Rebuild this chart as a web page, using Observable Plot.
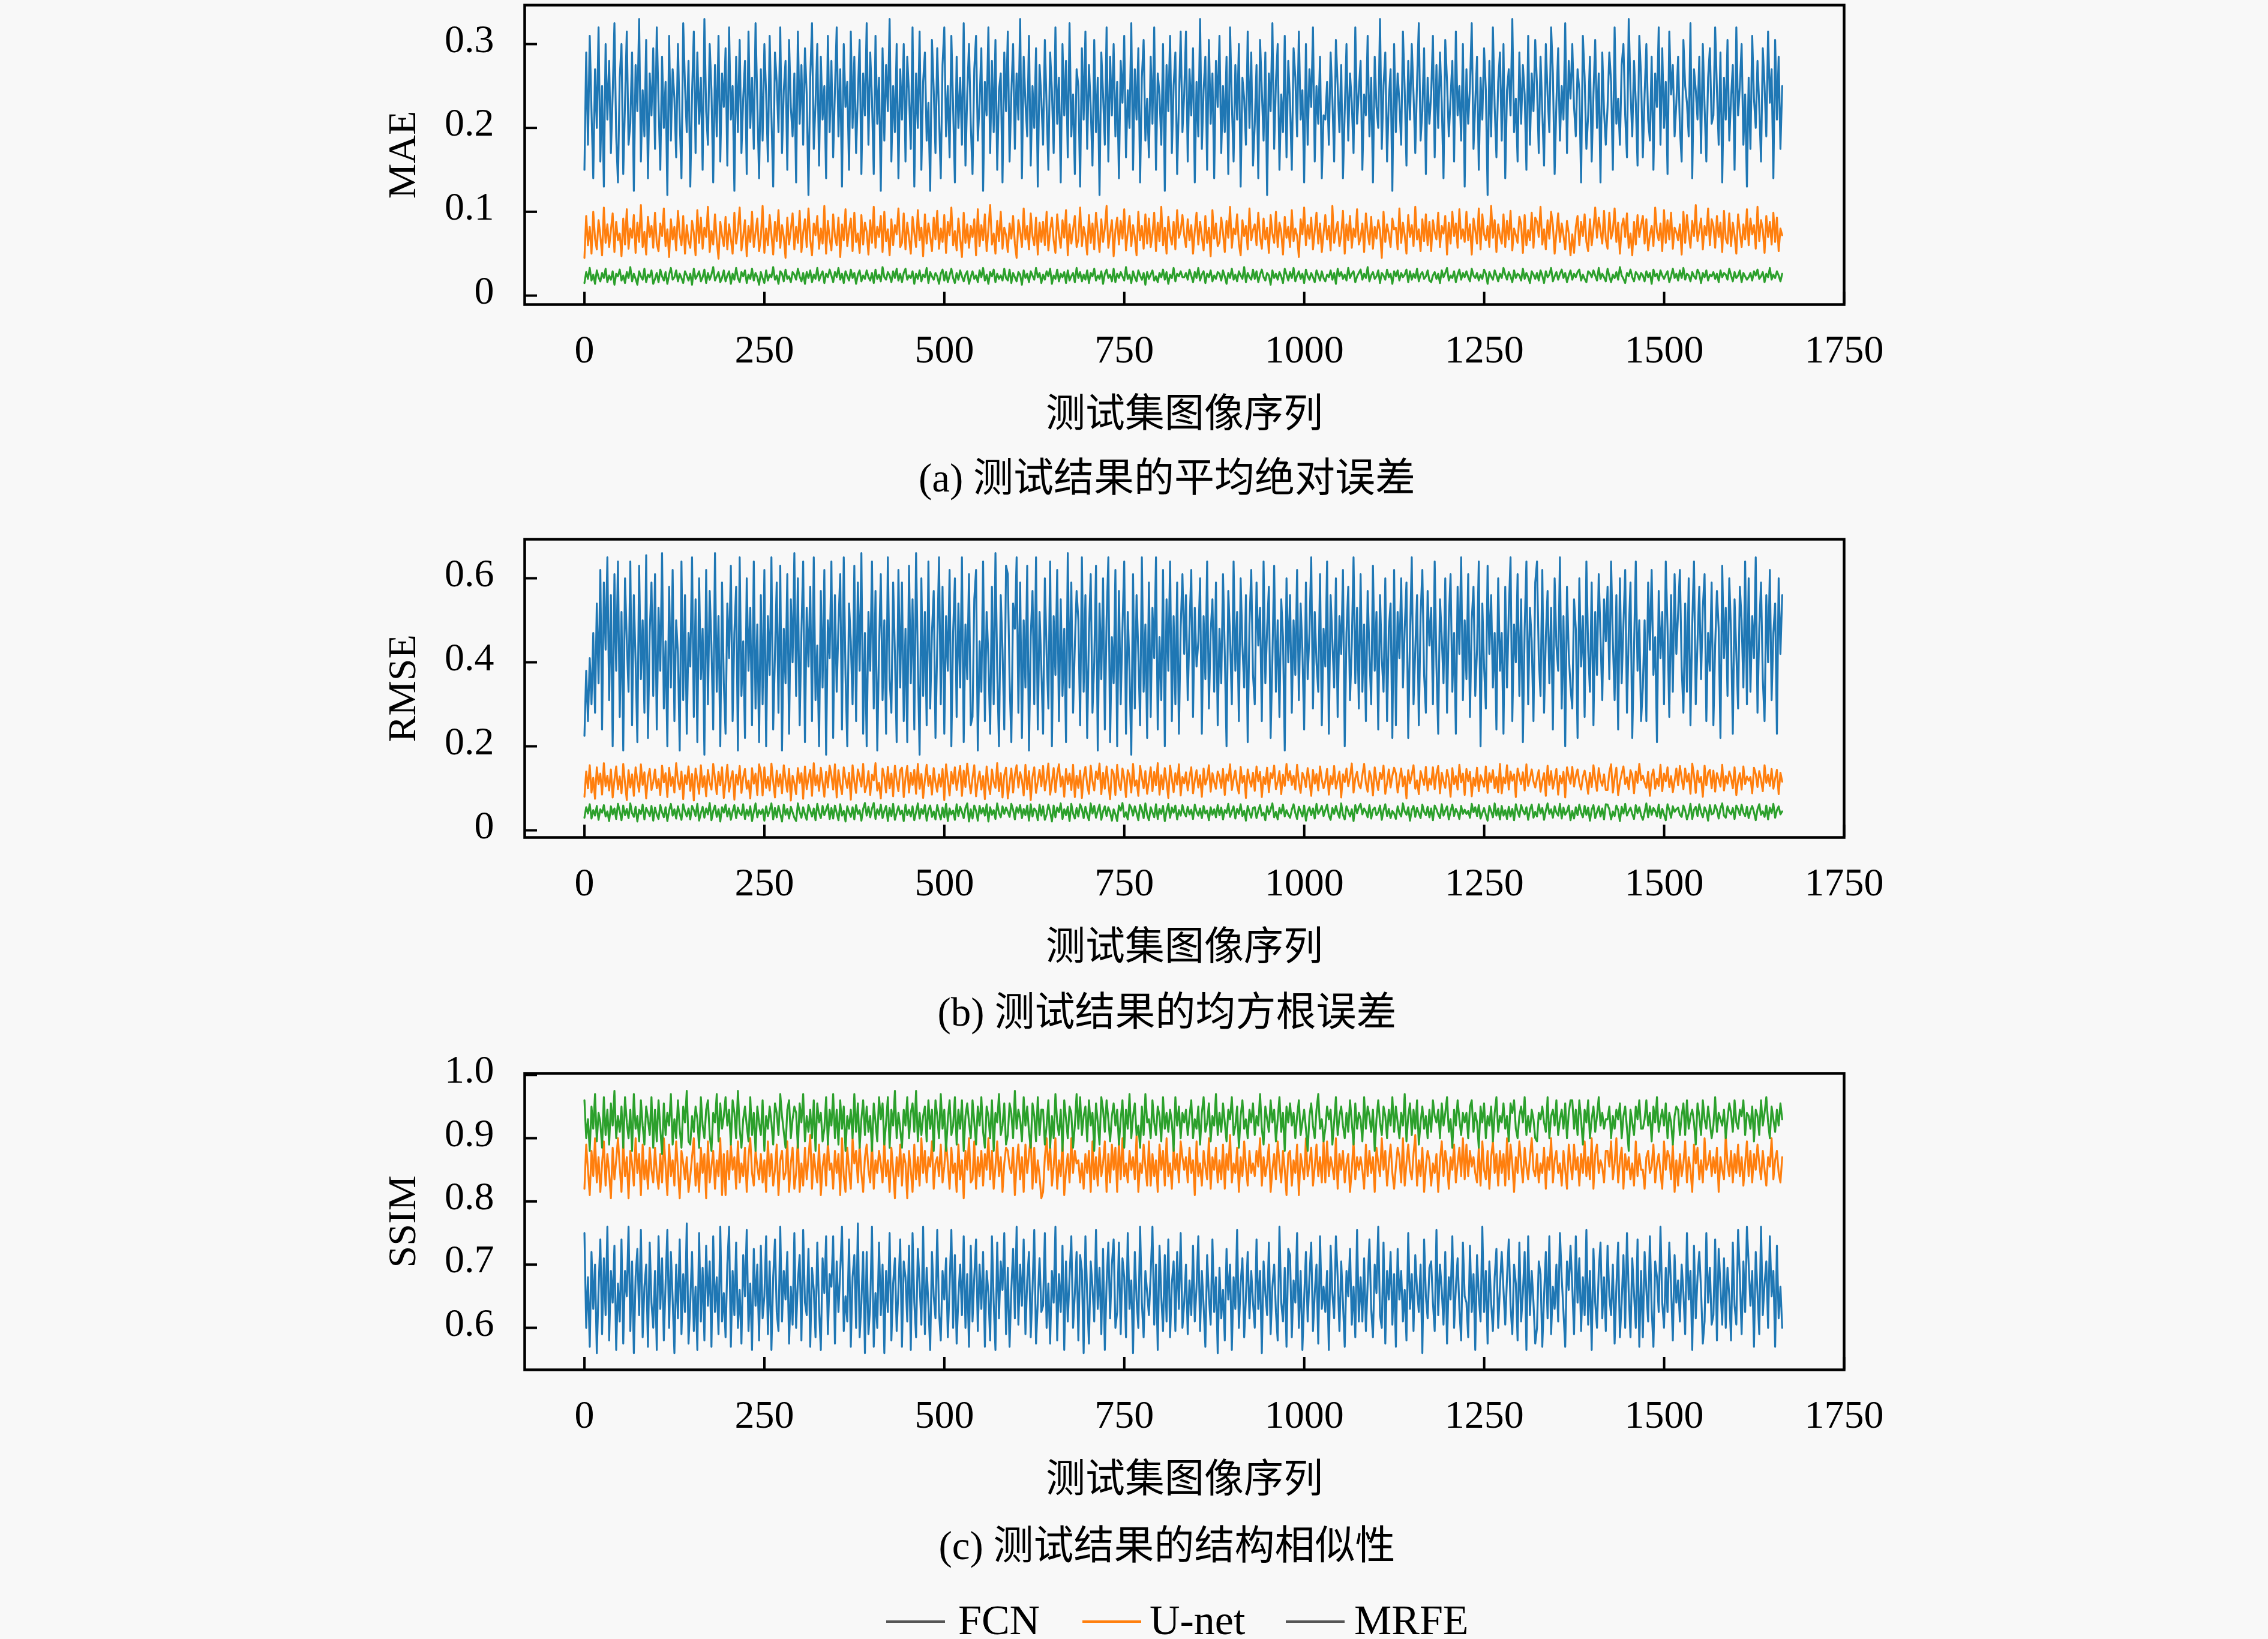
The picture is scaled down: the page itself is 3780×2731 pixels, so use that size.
<!DOCTYPE html>
<html><head><meta charset="utf-8">
<script src="https://cdn.jsdelivr.net/npm/d3@7"></script>
<script src="https://cdn.jsdelivr.net/npm/@observablehq/plot@0.6"></script>
<style>
html,body{margin:0;padding:0;background:#f8f8f8;}
body{width:3780px;height:2731px;position:relative;overflow:hidden;font-family:"Liberation Serif","Noto Sans CJK SC",serif;color:#000;}
.panel{position:absolute;left:0;}
.cap{position:absolute;font-size:67px;line-height:66px;white-space:nowrap;transform:translateX(-50%);}
.leg-line{position:absolute;height:4px;}
.leg-text{position:absolute;font-size:70px;line-height:70px;white-space:nowrap;}
</style></head><body>
<script>
// ---- data (values in thousandths) ----
const imageCount = 1665;
const models = ["FCN", "U-net", "MRFE"];
const modelColors = ["#1f77b4", "#ff7f0e", "#2ca02c"];
const legendSwatch = ["#555555", "#ff7f0e", "#555555"];
const xTicks = [0, 250, 500, 750, 1000, 1250, 1500, 1750];
const maeTicks = [0, 0.1, 0.2, 0.3];
const rmseTicks = [0, 0.2, 0.4, 0.6];
const ssimTicks = [0.6, 0.7, 0.8, 0.9, 1.0];
const xLabel = "测试集图像序列";
const yLabels = ["MAE", "RMSE", "SSIM"];
const captions = ["(a) 测试结果的平均绝对误差", "(b) 测试结果的均方根误差", "(c) 测试结果的结构相似性"];

const maeFCN = [150,290,180,310,220,140,270,200,320,160,250,130,300,210,280,170,240,325,190,135,
260,300,145,230,315,180,205,290,125,275,220,330,160,245,190,305,140,265,215,295,
175,320,230,150,285,200,255,120,310,185,270,235,165,300,210,140,325,250,195,280,
130,240,315,170,290,205,260,150,330,220,180,300,245,135,275,190,310,160,265,225,
295,155,320,210,250,125,285,195,305,170,235,280,145,315,200,260,175,325,230,140,
270,185,300,240,160,310,215,130,290,255,195,320,170,245,280,150,305,225,190,265,
135,315,205,275,180,295,240,120,260,325,175,230,300,155,285,210,250,140,310,195,
280,165,245,320,190,270,130,300,225,255,150,315,200,285,170,240,305,145,265,215,
325,180,290,235,145,310,205,260,125,295,185,275,220,330,160,250,195,300,140,270,
210,300,160,285,240,175,320,130,265,200,315,150,255,290,185,230,125,305,245,170,
295,215,140,275,320,190,250,165,310,225,135,285,200,260,180,325,155,240,300,205,
145,270,310,185,230,295,125,255,215,320,170,280,195,305,150,245,265,135,290,220,
315,160,240,300,175,265,210,330,140,285,230,190,310,155,250,200,295,130,275,235,
180,305,225,150,290,245,170,320,205,260,135,300,215,280,165,325,190,240,145,270,
250,130,295,210,315,175,275,225,155,305,195,260,120,290,240,180,320,160,285,215,
300,190,255,140,280,230,310,165,245,200,325,150,270,210,295,135,260,305,185,235,
165,285,205,320,150,265,240,180,300,125,275,220,310,170,250,290,145,230,315,195,
240,315,160,270,215,295,135,255,190,330,175,245,285,150,305,205,265,140,280,225,
310,170,250,195,285,145,320,230,160,275,210,300,130,260,235,180,315,200,290,155,
205,275,140,305,245,185,290,120,265,220,325,175,255,300,150,240,195,310,165,280,
230,150,295,260,190,315,210,245,135,300,180,270,225,320,160,250,205,285,140,215,
210,255,180,290,235,160,305,250,195,275,140,220,300,185,265,230,170,320,205,245,
280,150,240,215,310,190,260,135,285,225,200,330,175,250,290,160,235,270,125,300,
195,265,230,180,315,245,155,280,210,300,240,170,255,325,185,220,295,145,260,205,
240,310,165,275,200,290,230,140,305,255,190,235,280,160,315,215,250,185,300,130,
270,205,250,325,175,230,285,150,260,210,295,245,120,280,190,320,225,165,255,290,
185,300,140,245,270,215,330,195,235,160,290,205,275,240,150,310,180,265,220,305,
250,170,285,220,155,300,240,195,320,265,145,230,295,185,250,210,325,170,280,235,
300,225,190,270,245,135,310,260,175,215,285,160,240,305,200,265,135,290,220,180,
225,290,255,150,320,205,235,180,275,300,215,165,330,245,190,280,230,155,310,260,
165,240,300,210,185,285,150,265,225,320,180,295,200,255,145,315,240,275,190,230,
285,200,160,305,250,230,190,325,140,270,245,210,285,170,300,225,160,260,295,205,
215,320,245,180,290,135,260,210,305,185,235,275,150,320,215,250,300,180,240,130,
260,175,310,235,200,280,225,160,295,250,190,315,230,270,140,305,210,285,175,250];

const maeUnet = [45,95,60,82,50,100,68,55,90,72,48,105,63,85,58,78,98,52,88,66,
74,47,92,61,103,56,80,69,96,51,87,64,108,58,76,49,94,70,83,57,
99,62,53,86,71,104,59,79,46,91,67,82,54,101,73,60,95,50,84,65,
57,89,75,48,102,63,93,56,81,70,106,52,77,61,97,66,44,88,72,59,
94,55,85,68,50,99,62,78,105,54,71,90,47,83,64,100,58,76,92,53,
69,107,51,80,60,96,73,49,88,65,102,57,84,70,45,93,61,79,98,55,
82,63,101,52,75,91,58,104,67,48,86,72,95,56,80,62,107,50,89,68,
54,97,71,60,93,46,85,66,103,59,78,92,53,99,64,74,51,96,61,87,
76,49,90,63,106,57,82,70,95,52,100,65,79,48,91,60,84,73,104,58,
63,98,55,87,69,50,94,75,58,102,66,81,47,97,62,86,71,53,93,67,
101,56,80,64,96,51,88,72,105,60,77,54,92,68,46,99,63,85,57,83,
70,91,48,103,59,84,66,97,53,79,108,61,74,50,89,65,100,56,81,72,
52,86,68,95,62,45,90,77,58,104,67,83,55,98,71,60,93,49,87,64,
88,60,100,54,78,93,66,51,97,73,57,90,69,102,48,85,62,79,95,58,
67,105,59,82,71,49,96,63,86,55,99,75,52,91,64,80,107,57,74,90,
47,78,93,61,89,68,103,54,76,95,59,84,70,48,100,66,83,56,97,62,
92,58,73,99,53,87,65,106,60,81,50,94,72,61,88,55,102,69,77,96,
72,58,91,66,84,50,77,99,61,88,70,54,95,63,81,47,102,68,86,59,
64,93,75,52,89,69,106,57,80,73,97,62,48,90,71,83,55,104,66,78,
85,60,99,70,56,92,67,81,51,96,74,63,100,58,87,76,49,94,69,82,
58,102,65,80,71,46,91,73,105,60,84,68,93,55,77,99,62,86,52,74,
96,67,83,54,107,63,78,88,59,72,101,50,85,66,95,57,80,70,103,61,
69,86,52,98,75,61,94,56,82,68,90,77,45,100,64,85,73,58,92,79,
81,55,104,63,87,72,50,96,70,84,59,106,67,79,53,91,65,97,60,88,
53,90,76,67,99,58,83,74,95,49,87,62,100,71,86,57,103,68,79,64,
100,66,85,49,92,78,62,104,55,97,73,66,83,58,107,69,90,52,85,71,
62,97,58,89,67,101,54,80,72,63,94,85,51,96,60,78,66,99,57,93,
88,70,106,61,79,55,90,68,100,84,50,75,98,64,86,72,55,89,74,48,
73,51,82,95,60,88,71,97,64,53,91,60,80,105,69,93,77,62,101,67,
56,99,68,77,104,64,87,50,82,92,70,98,57,74,48,88,61,96,70,84,
95,62,91,54,72,83,59,105,76,66,86,53,102,63,90,67,99,56,81,75,
66,85,49,100,63,96,74,57,89,71,108,65,78,92,55,83,72,104,60,91,
83,57,95,70,87,52,101,68,62,98,59,87,72,50,97,76,58,85,67,103,
60,92,73,84,56,106,65,90,79,51,95,70,88,61,99,64,93,53,80,72];

const maeMRFE = [15,28,20,33,18,25,14,30,22,17,27,21,32,16,24,19,29,13,26,23,
31,18,24,15,28,21,34,17,26,20,13,29,23,19,32,16,25,22,30,14,
20,27,16,31,23,18,28,14,25,33,19,22,30,17,26,21,15,29,24,18,
26,13,32,20,24,29,17,22,31,15,27,19,25,34,18,23,28,16,21,30,
17,24,29,14,26,19,33,21,16,28,23,30,15,25,20,32,18,27,22,13,
28,21,15,30,18,25,22,34,19,24,14,29,26,17,31,20,23,16,28,25,
19,32,23,17,27,14,28,21,30,16,25,20,33,18,24,29,15,26,22,31,
24,16,28,22,33,19,26,15,29,23,18,31,21,27,14,25,30,17,24,20,
30,22,18,27,15,31,20,25,17,34,22,19,28,24,16,29,21,32,18,26,
16,27,32,19,24,21,29,14,26,20,30,17,25,22,33,15,28,23,19,27,
23,14,26,31,18,28,16,24,32,21,15,27,19,30,23,17,25,29,14,22,
29,20,24,16,30,22,33,18,25,14,28,23,31,16,26,20,24,18,32,21,
18,31,15,27,22,17,28,25,13,30,21,26,16,29,24,19,33,22,27,15,
25,19,29,23,32,14,24,20,31,17,26,22,28,15,30,18,23,27,16,33,
21,28,17,25,19,30,15,27,23,32,18,24,20,29,14,26,31,21,25,17,
32,16,26,21,28,23,18,34,20,25,15,29,22,17,30,24,19,27,13,28,
20,25,30,18,23,16,27,22,31,19,28,14,25,21,33,17,26,23,29,22,
22,27,19,31,24,16,28,21,33,18,25,29,15,26,22,30,17,24,20,28,
26,18,30,23,14,27,21,32,19,25,17,29,24,20,34,16,27,22,19,31,
20,29,16,25,31,22,18,27,24,13,30,21,26,19,28,23,15,32,25,18,
28,21,33,17,24,29,20,26,15,31,23,19,27,22,16,30,24,18,29,21,
17,25,22,30,19,27,14,32,23,28,20,25,18,33,21,26,29,16,23,27,
31,19,26,21,34,17,24,28,20,23,30,15,27,24,19,31,22,26,14,29,
23,30,18,27,22,25,31,16,29,19,26,21,32,17,25,28,20,23,30,18,
16,24,28,20,26,15,30,22,27,33,18,24,21,29,16,25,31,19,27,22,
29,22,17,32,24,21,27,18,25,20,31,26,14,28,23,19,30,24,17,26,
21,33,25,19,28,23,16,30,21,26,24,18,32,20,27,22,15,29,25,20,
27,18,30,24,15,29,22,25,33,17,23,28,19,26,31,21,27,16,24,30,
19,26,22,28,31,18,25,20,16,29,27,22,30,24,18,33,20,26,22,17,
32,23,16,25,21,28,19,34,24,20,15,27,23,31,22,17,28,25,19,27,
24,17,29,22,27,14,31,23,26,18,30,24,20,25,29,16,23,32,21,26,
18,30,21,33,19,26,24,17,28,23,20,31,26,15,27,22,30,18,25,23,
28,20,26,16,30,22,27,25,19,32,24,17,28,21,24,30,16,27,23,19,
22,27,18,29,24,31,20,23,28,16,26,22,33,19,25,21,29,24,17,26];

const rmseFCN = [225,380,260,410,300,470,280,540,350,620,240,590,430,650,310,560,200,610,380,640,
270,520,190,600,450,330,640,250,560,400,210,630,360,500,280,655,220,470,590,320,
610,240,530,380,660,290,450,200,580,340,620,260,500,420,190,640,310,560,230,470,
390,650,270,550,210,600,360,480,180,620,300,570,440,240,660,330,510,200,590,350,
230,540,410,630,260,470,580,190,650,320,450,220,600,380,530,250,640,290,490,210,
560,300,620,200,510,370,650,240,420,590,280,630,190,480,350,610,230,550,400,660,
320,600,250,470,640,210,530,390,580,260,650,310,440,200,570,340,620,180,500,410,
640,220,560,330,490,610,240,650,370,200,540,450,300,630,260,590,380,660,230,470,
200,520,380,640,290,570,190,430,610,310,500,230,650,360,280,590,420,210,620,340,
590,260,480,210,630,350,550,240,660,400,180,600,320,520,250,640,290,470,570,220,
440,650,300,580,230,510,380,620,200,470,600,270,540,340,650,210,490,360,610,250,
270,550,620,190,450,330,640,260,520,410,230,580,300,660,380,200,560,430,240,630,
610,360,210,540,480,650,280,590,220,500,340,630,190,460,570,300,650,240,520,390,
230,600,420,290,640,200,510,370,620,260,550,320,480,210,660,340,590,280,440,570,
500,250,650,330,560,220,470,610,280,400,630,190,540,360,600,240,500,650,210,460,
350,620,200,570,300,480,640,230,520,380,180,610,290,560,420,250,650,330,490,220,
590,270,530,410,650,240,460,310,620,200,550,380,640,260,510,300,590,230,480,610,
420,560,310,480,620,270,530,390,450,600,230,510,360,640,290,470,550,330,590,250,
480,350,610,420,200,570,460,300,640,380,520,260,600,440,340,560,210,490,620,370,
300,590,440,530,260,640,350,480,580,220,410,630,330,500,270,550,460,190,600,400,
560,280,500,370,620,310,540,430,240,590,360,470,650,290,520,400,330,610,250,480,
390,640,230,560,450,340,600,270,510,420,620,200,470,580,310,440,650,350,530,290,
610,330,490,260,570,420,300,630,380,520,240,560,410,330,600,260,480,540,220,620,
250,520,410,600,340,480,590,220,460,650,300,430,560,250,510,620,370,280,570,440,
530,300,640,390,230,550,460,350,600,280,500,610,330,470,230,580,420,650,310,500,
360,610,270,500,580,320,430,640,200,540,390,290,630,420,560,340,470,240,600,380,
470,230,580,340,520,650,260,490,400,610,320,550,210,480,640,300,530,450,260,590,
640,410,320,620,280,460,570,350,530,240,600,440,380,650,290,510,200,580,420,340,
290,550,480,220,600,390,510,270,640,430,330,590,250,520,370,610,460,310,550,450,
580,360,640,450,310,560,240,600,350,490,620,280,470,590,220,430,640,380,500,260,
340,500,260,590,430,620,370,460,210,570,410,520,300,640,480,270,560,330,610,420,
520,620,390,280,540,330,600,250,490,640,300,450,580,360,530,610,260,470,380,590,
250,440,570,480,220,630,410,530,320,600,470,230,550,420,290,580,500,340,640,300,
600,330,510,410,650,280,480,590,360,260,560,400,620,310,470,540,230,600,420,560];

const rmseUnet = [80,140,100,155,90,125,75,150,110,135,85,160,105,130,95,145,78,120,152,98,
128,88,158,112,72,143,102,133,82,150,118,92,157,108,138,76,126,146,96,115,
145,100,122,84,154,114,136,79,149,106,127,90,160,117,98,140,74,131,110,152,
94,134,71,147,119,87,155,103,129,81,144,113,97,158,124,86,139,107,150,77,
116,156,92,121,141,73,132,109,153,89,126,146,99,118,76,148,111,135,84,157,
138,83,150,101,127,95,159,117,78,142,105,133,88,155,121,92,146,71,130,112,
86,148,113,136,75,152,98,125,144,82,160,107,131,94,149,115,80,139,102,154,
131,97,157,78,143,110,86,150,122,101,137,73,155,116,89,145,127,104,158,91,
107,141,84,132,119,160,95,113,76,147,128,90,151,100,135,81,154,118,93,143,
149,79,125,153,90,137,108,144,87,158,99,134,77,120,156,106,130,85,148,114,
92,133,104,146,72,157,118,83,139,111,150,96,126,153,82,142,103,159,121,88,
124,155,81,118,140,97,129,74,152,109,86,145,115,101,160,93,136,78,131,149,
76,112,147,90,132,155,102,138,120,83,156,98,141,72,127,150,89,116,144,105,
153,95,123,159,85,114,148,91,134,157,104,128,80,146,110,135,96,156,79,130,
101,142,77,128,151,108,87,154,117,95,140,122,159,86,137,99,152,112,74,145,
135,84,156,110,96,147,124,79,143,130,90,158,106,119,82,153,126,100,141,87,
118,150,93,139,107,160,85,131,98,148,115,77,154,123,91,136,109,157,83,127,
112,138,95,126,150,88,119,143,102,131,80,147,109,124,155,92,136,115,99,140,
128,101,146,84,133,118,157,96,122,142,107,88,151,113,130,77,145,120,104,137,
94,152,117,139,79,127,110,149,91,136,124,154,98,116,141,86,132,106,158,119,
141,108,130,97,156,114,89,137,125,103,148,118,82,144,111,134,95,152,121,100,
117,146,85,129,110,153,99,121,140,78,133,115,147,105,127,159,90,124,139,108,
100,131,158,112,92,141,126,83,150,118,96,137,122,154,87,113,145,102,130,149,
135,90,120,147,105,128,76,143,112,132,155,99,119,86,141,125,108,151,95,123,
109,150,98,134,153,88,137,116,101,144,123,80,148,110,129,97,156,114,135,84,
146,117,139,81,125,106,149,93,131,119,104,152,89,136,115,143,100,127,91,158,
88,126,112,155,97,140,118,133,79,147,128,110,138,95,157,106,123,145,116,102,
124,143,92,117,136,82,154,108,141,99,121,146,85,130,112,139,78,150,127,111,
151,104,129,145,113,97,127,142,118,87,137,103,155,122,94,148,119,106,133,96,
96,138,157,90,124,149,84,115,134,152,110,126,98,143,131,88,140,113,158,120,
130,114,101,139,82,128,145,99,123,106,156,93,135,117,150,103,129,91,118,147,
107,153,124,98,147,116,135,87,159,131,89,142,114,127,80,154,107,137,144,100,
142,92,136,121,104,156,95,129,111,140,125,100,150,84,120,136,97,152,110,128,
118,127,88,149,134,103,141,120,93,155,113,132,106,146,99,123,144,86,137,116];

const rmseMRFE = [30,55,40,62,28,48,35,58,25,50,42,60,33,45,22,57,38,52,27,63,
46,24,59,36,51,29,64,41,32,56,21,49,39,61,26,53,44,34,58,23,
54,37,27,60,43,31,55,22,47,63,35,50,28,57,40,25,62,45,33,52,
26,58,48,34,63,23,41,56,30,52,38,65,24,46,59,32,50,21,55,42,
61,33,52,25,45,60,29,54,41,36,62,27,49,35,57,22,44,64,31,48,
39,50,23,57,34,47,64,26,53,31,58,40,21,61,37,51,28,56,43,30,
22,64,44,30,55,38,25,60,47,33,52,24,63,42,29,58,36,49,62,27,
53,28,59,41,24,62,35,46,21,57,43,32,55,26,60,39,48,23,51,65,
35,56,31,52,65,27,50,37,61,29,46,58,22,53,34,63,25,42,57,38,
47,22,61,36,49,33,57,24,44,64,28,51,39,60,23,48,59,32,45,26,
60,41,26,54,31,63,22,52,38,47,25,62,34,56,44,29,53,64,21,50,
28,59,46,23,58,40,53,35,62,21,55,37,48,27,64,41,31,57,39,54,
44,32,63,49,26,55,42,60,29,51,36,59,23,62,33,52,46,24,61,35,
57,25,38,61,44,21,59,31,54,43,64,27,50,36,56,22,63,40,28,53,
33,62,51,29,56,37,24,64,40,58,30,47,61,25,45,57,34,55,43,23,
50,38,22,59,47,65,32,43,26,61,53,35,57,41,24,60,49,29,64,37,
24,55,43,31,62,27,51,39,58,22,46,63,30,54,42,59,26,48,35,60,
42,33,56,38,49,27,61,44,35,52,29,58,40,47,24,55,37,50,31,60,
36,54,26,48,41,63,32,45,57,28,51,39,62,34,46,23,58,43,30,53,
55,29,47,60,35,42,24,57,38,50,64,31,44,26,53,40,61,33,48,37,
30,49,62,41,27,56,45,33,59,23,46,55,36,52,28,63,39,47,58,34,
48,61,35,25,53,39,58,42,30,64,37,26,57,45,33,50,22,60,41,55,
63,38,52,44,31,60,28,49,54,36,43,59,25,48,62,34,51,29,46,40,
27,57,41,33,64,45,37,55,23,48,58,32,53,40,29,61,44,36,56,31,
52,24,59,50,38,29,62,35,47,57,26,45,61,34,51,42,27,58,39,49,
39,46,30,63,43,55,34,60,28,41,53,37,23,58,46,31,64,35,52,26,
58,35,48,27,56,33,51,24,62,45,32,60,47,38,55,25,49,61,30,44,
33,62,40,53,25,47,64,39,50,30,57,42,35,63,28,54,37,45,59,24,
46,28,55,36,61,42,31,58,37,54,23,49,60,29,44,57,33,52,26,62,
61,50,26,45,34,59,48,22,56,40,63,35,46,54,39,27,60,41,55,36,
25,43,64,31,57,37,53,46,33,61,29,51,38,24,62,48,30,57,44,50,
54,37,32,59,47,26,40,63,27,49,56,34,62,43,31,55,45,23,60,38,
40,60,49,28,52,64,35,30,57,44,38,53,27,59,50,36,61,42,34,56,
29,47,58,43,24,50,62,37,45,32,59,26,54,41,63,30,48,57,38,45];

const ssimFCN = [750,600,680,570,720,630,700,560,660,740,590,710,620,760,580,690,640,730,565,670,
610,740,575,690,650,760,595,705,560,680,725,620,755,585,665,700,570,735,640,600,
690,565,745,630,710,580,670,755,600,720,645,560,700,615,740,590,685,625,765,575,
640,720,595,665,565,750,610,695,580,730,635,705,570,745,625,680,590,760,610,655,
585,700,760,570,690,620,735,600,660,575,715,650,755,595,670,565,725,635,700,580,
730,615,650,745,590,705,565,680,740,625,595,760,610,690,645,720,575,665,605,750,
600,675,715,580,755,640,620,725,570,695,660,585,735,630,565,710,655,745,590,685,
665,745,575,705,625,690,760,595,650,610,740,570,680,715,600,765,585,640,720,560,
720,590,635,760,570,655,600,735,620,700,560,690,625,750,580,670,710,595,660,740,
570,705,680,610,730,565,750,640,585,725,670,605,760,590,695,635,565,720,650,615,
755,625,580,690,645,710,585,665,755,600,715,575,650,700,620,745,600,685,570,730,
610,680,740,595,700,630,720,570,690,655,580,745,640,565,735,615,705,660,750,590,
695,570,660,725,615,760,605,700,635,740,590,675,720,585,660,755,575,640,710,625,
635,750,600,670,575,690,640,760,580,685,625,730,565,705,610,680,745,600,655,720,
580,715,690,560,745,650,575,705,665,610,755,630,695,590,725,565,670,735,615,700,
740,600,625,735,590,710,680,585,750,630,675,560,720,645,600,760,640,585,690,655,
620,685,760,605,700,565,730,650,595,715,610,740,585,670,705,595,720,630,750,600,
640,700,590,675,620,730,610,665,745,595,690,635,570,715,650,605,740,625,680,560,
695,615,660,580,725,645,700,565,680,630,755,600,670,710,585,650,720,615,690,640,
600,740,630,690,560,705,655,620,735,590,665,700,625,580,760,640,610,695,570,725,
715,585,675,640,750,600,690,565,645,720,610,680,735,595,655,700,575,745,630,665,
625,690,565,730,655,615,745,680,595,705,640,570,690,650,725,605,665,585,755,610,
680,610,710,595,670,740,630,585,700,655,760,620,600,735,575,690,645,720,605,685,
570,725,645,690,610,660,580,750,630,685,595,715,660,625,700,560,740,650,615,695,
705,640,595,755,620,700,660,605,720,575,680,645,745,600,665,710,630,580,735,650,
640,585,730,625,685,565,715,650,610,760,625,690,575,705,640,595,680,725,600,665,
720,660,605,680,740,635,590,700,670,580,735,610,655,720,565,745,620,690,640,575,
600,705,685,570,650,720,615,745,590,665,630,700,610,750,680,625,570,705,660,730,
665,590,745,640,710,595,680,620,755,605,690,565,725,640,600,690,735,615,680,595,
730,650,620,700,575,665,735,585,640,715,600,750,655,585,710,655,600,740,570,690,
585,720,660,610,745,630,570,705,680,625,760,640,600,695,625,735,665,580,715,640,
675,610,700,655,590,750,645,690,565,730,615,680,720,660,575,610,750,640,695,605,
620,740,580,725,665,605,710,600,695,650,580,735,635,605,755,680,590,705,625,760,
700,635,690,570,720,655,590,760,620,670,705,600,745,650,690,570,730,615,665,600];

const ssimUnet = [820,890,850,810,880,840,900,830,870,815,860,895,825,875,845,805,885,835,865,900,
855,815,895,840,870,805,880,860,825,900,845,875,810,890,835,865,820,885,850,830,
885,845,820,875,830,900,855,810,890,840,865,825,895,850,805,880,860,835,870,815,
840,870,900,825,860,815,885,845,875,805,895,830,855,880,820,865,840,900,810,875,
810,880,835,890,850,870,820,895,830,860,840,885,815,870,900,845,825,880,855,835,
875,830,865,815,895,840,875,825,850,890,810,865,880,835,845,895,815,860,885,820,
845,900,815,860,825,885,835,870,905,820,875,850,830,890,810,855,875,825,895,850,
860,820,880,845,875,810,900,840,815,885,850,820,900,860,880,830,890,845,815,870,
890,850,830,895,820,865,845,880,860,830,895,840,865,815,885,850,805,870,840,890,
825,875,860,805,880,850,815,890,835,870,825,900,845,880,830,870,855,895,820,860,
870,840,890,830,855,895,860,820,885,845,860,815,890,835,865,805,880,850,900,830,
835,895,820,870,840,880,825,875,850,900,835,880,820,855,895,840,870,815,860,885,
880,855,845,885,810,860,890,835,870,815,890,845,875,900,820,885,830,865,840,805,
815,870,900,850,890,825,855,900,820,865,840,895,810,850,875,830,900,845,880,860,
865,830,860,820,875,845,880,815,895,835,870,825,885,840,860,895,815,875,830,890,
850,885,815,895,835,900,840,860,830,880,850,870,835,905,815,860,845,890,855,825,
895,825,875,840,865,815,890,850,880,825,900,840,860,820,885,850,875,830,895,870,
850,870,830,885,845,865,810,895,840,860,825,880,855,835,900,820,870,850,885,830,
865,835,890,820,875,850,905,830,860,845,885,815,870,840,895,855,825,880,845,860,
840,880,855,900,825,870,840,860,890,815,850,875,835,895,860,830,880,850,810,875,
880,825,865,845,890,810,875,855,835,900,840,860,885,825,855,890,840,870,830,895,
830,895,840,870,855,835,900,820,875,850,880,830,860,875,815,850,895,835,870,850,
870,850,820,890,840,880,845,870,815,885,860,840,900,850,880,825,860,890,845,820,
855,885,870,830,900,825,860,890,850,835,875,905,825,865,840,885,815,855,880,865,
825,860,845,875,815,865,895,840,880,860,820,870,850,890,830,860,885,840,900,835,
890,840,880,855,870,845,830,885,825,895,850,835,880,820,870,895,845,875,825,880,
845,875,825,900,835,890,860,815,870,845,895,860,830,885,855,835,870,900,850,840,
875,830,860,845,885,820,870,850,900,830,865,880,845,860,825,880,850,820,890,860,
835,890,850,870,825,875,845,895,840,870,835,900,820,875,890,845,865,855,830,880,
880,855,895,835,860,900,830,865,885,820,875,850,870,835,860,825,895,840,875,850,
850,820,870,880,845,855,890,830,860,875,845,820,895,850,880,870,835,890,815,865,
825,875,840,860,895,830,870,850,815,890,860,885,835,865,830,900,850,860,880,840,
870,845,885,815,870,850,835,905,860,840,880,830,875,845,890,840,870,825,860,895,
840,880,830,875,850,890,860,835,880,850,825,870,855,900,835,865,880,845,830,870];

const ssimMRFE = [960,900,930,880,950,915,970,895,940,925,885,965,905,945,890,955,920,975,900,935,
910,950,885,965,925,900,945,880,970,915,935,895,960,920,890,950,930,905,965,885,
945,895,960,915,875,955,905,940,920,970,890,930,900,960,915,885,950,925,975,895,
890,935,910,950,930,885,965,920,900,945,960,905,880,940,925,970,895,955,915,935,
965,920,945,890,960,940,900,975,915,885,930,950,920,895,965,905,940,880,950,925,
905,960,880,935,915,950,925,890,955,940,905,970,935,910,885,945,960,900,930,950,
940,885,955,925,970,895,935,910,945,900,960,880,955,925,940,895,915,965,890,945,
920,970,900,945,890,960,915,950,880,935,915,945,900,970,910,955,885,930,960,905,
950,910,935,880,955,925,895,965,930,955,890,925,965,885,945,920,975,900,940,915,
885,945,920,965,900,940,955,910,975,895,940,905,935,950,895,960,915,945,880,960,
935,900,970,915,945,880,930,960,905,920,965,890,945,915,960,880,935,955,925,900,
960,925,890,950,920,965,910,885,950,935,900,960,880,940,925,970,905,920,955,890,
905,955,940,900,975,915,945,930,895,965,920,950,910,885,955,935,895,965,905,945,
945,890,920,960,885,935,900,970,925,905,945,880,960,930,900,950,940,885,920,970,
915,965,905,935,950,895,960,920,940,880,955,925,890,965,945,910,960,930,895,935,
955,920,945,890,930,960,885,945,915,970,900,935,955,905,920,885,950,905,970,925,
930,900,960,925,905,950,935,895,965,915,940,910,945,925,880,965,920,950,900,940,
925,945,905,935,960,900,930,915,950,890,940,965,910,925,955,895,935,920,970,905,
940,910,955,925,895,945,930,965,905,920,950,885,935,960,915,930,900,945,925,955,
905,935,920,970,915,890,950,930,910,960,925,945,895,930,965,910,940,880,950,925,
955,920,940,900,935,960,905,925,945,915,880,935,955,920,900,945,970,915,930,895,
915,950,930,945,890,925,965,905,935,950,920,900,940,910,960,925,890,955,915,940,
930,895,965,915,950,935,910,945,880,930,960,925,905,950,935,900,945,920,965,910,
950,925,900,940,920,970,895,935,955,905,945,915,960,890,925,950,915,935,900,945,
910,960,935,925,945,900,955,920,940,965,910,930,885,945,920,960,930,905,940,925,
940,900,950,960,910,940,925,885,950,925,955,900,935,920,950,895,940,965,910,935,
925,955,915,935,895,955,940,960,915,900,935,950,925,965,905,935,910,945,930,900,
895,940,930,950,925,910,965,900,935,945,920,960,905,930,945,915,955,900,940,960,
960,915,945,905,960,930,890,945,925,960,900,930,950,910,935,965,920,940,915,930,
930,950,900,935,915,945,930,955,900,935,950,915,880,945,925,905,950,930,960,915,
915,930,960,920,940,895,950,925,965,910,930,945,920,955,900,940,925,890,935,950,
945,905,935,955,905,960,915,935,945,925,890,955,935,905,960,930,915,950,925,900,
920,965,910,940,930,920,945,900,930,955,940,910,960,925,915,945,935,960,905,940,
935,915,950,895,945,935,905,960,920,940,965,925,900,950,930,910,945,920,955,930];

// ---- drawing ----
const fontStack = "'Liberation Serif','Noto Sans CJK SC',serif";
const yFmt = d => d === 0 ? "0" : d.toFixed(1);

function toRows(arr, model) {
  return arr.map((v, i) => ({index: i * (imageCount - 1) / (arr.length - 1), value: v / 1000, model}));
}

function makePanel(series, cfg) {
  const rows = series.flatMap((arr, k) => toRows(arr, models[k]));
  return Plot.plot({
    width: 3780,
    height: 740,
    marginLeft: 874,
    marginRight: 707,
    marginTop: 8,
    marginBottom: cfg.marginBottom,
    style: {background: "transparent", fontFamily: fontStack, fontSize: "66px", color: "#000", overflow: "visible"},
    x: {domain: [-83, 1750]},
    y: {domain: cfg.yDomain},
    color: {domain: models, range: modelColors},
    marks: [
      Plot.lineY(rows, {x: "index", y: "value", z: "model", stroke: "model", strokeWidth: 3.2}),
      Plot.frame({stroke: "#000", strokeWidth: 4.5}),
      Plot.axisY({ticks: cfg.yTicks, tickSize: -21, text: null, label: null, strokeWidth: 4}),
      Plot.axisY({ticks: cfg.yTicks, tickSize: 0, tickPadding: 51, tickFormat: yFmt, dy: -8, label: null, fill: "#000"}),
      Plot.axisY({ticks: cfg.yTicks, tickSize: 0, text: null,
        label: cfg.yLabel, labelAnchor: "center", labelOffset: 229, labelArrow: "none", fill: "#000"}),
      Plot.axisX({ticks: xTicks, tickSize: -21, text: null, label: null, strokeWidth: 4}),
      Plot.axisX({ticks: xTicks, tickSize: 0, tickPadding: 50, tickFormat: d => String(d),
        label: xLabel, labelAnchor: "center", labelOffset: 203, labelArrow: "none", fill: "#000"})
    ]
  });
}

const panels = [
  {series: [maeFCN, maeUnet, maeMRFE], yDomain: [-0.0107, 0.3465], yTicks: maeTicks, top: 0, marginBottom: 233, capY: 793},
  {series: [rmseFCN, rmseUnet, rmseMRFE], yDomain: [-0.0171, 0.6929], yTicks: rmseTicks, top: 890, marginBottom: 235, capY: 1683},
  {series: [ssimFCN, ssimUnet, ssimMRFE], yDomain: [0.5335, 1.0026], yTicks: ssimTicks, top: 1780, marginBottom: 238, capY: 2572}
];

panels.forEach((p, i) => {
  const wrap = document.createElement("div");
  wrap.className = "panel";
  wrap.style.top = p.top + "px";
  wrap.appendChild(makePanel(p.series, {...p, yLabel: yLabels[i]}));
  document.body.appendChild(wrap);
  const cap = document.createElement("div");
  cap.className = "cap";
  cap.style.left = "1945px";
  cap.style.top = (p.capY - 30) + "px";
  cap.textContent = captions[i];
  document.body.appendChild(cap);
});

// legend
const legendLineX = [1477, 1804, 2143];
const legendTextX = [1597, 1916, 2257];
models.forEach((m, i) => {
  const line = document.createElement("div");
  line.className = "leg-line";
  line.style.left = legendLineX[i] + "px";
  line.style.width = "98px";
  line.style.top = "2700px";
  line.style.background = legendSwatch[i];
  document.body.appendChild(line);
  const t = document.createElement("div");
  t.className = "leg-text";
  t.style.left = legendTextX[i] + "px";
  t.style.top = "2665px";
  t.textContent = m;
  document.body.appendChild(t);
});
</script>
</body></html>
